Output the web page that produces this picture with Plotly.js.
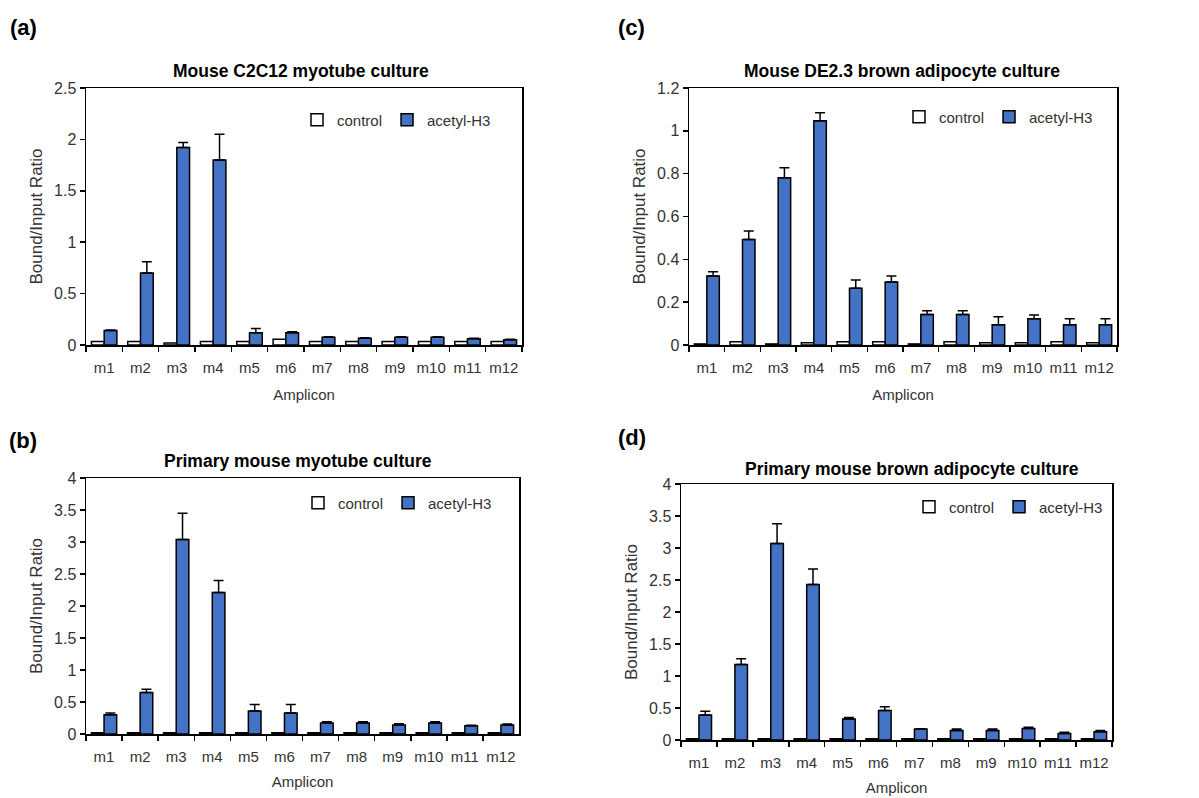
<!DOCTYPE html>
<html>
<head>
<meta charset="utf-8">
<script src="https://cdn.plot.ly/plotly-3.0.1.min.js"></script>
<style>html,body{margin:0;padding:0;background:#fff;} #chart{width:1199px;height:798px;}</style>
</head>
<body>
<div id="chart"></div>
<script>
// ---- data ----
const amplicons = ['m1','m2','m3','m4','m5','m6','m7','m8','m9','m10','m11','m12'];
const seriesNames = ['control', 'acetyl-H3'];

const panelTitles = [
  'Mouse C2C12 myotube culture',
  'Mouse DE2.3 brown adipocyte culture',
  'Primary mouse myotube culture',
  'Primary mouse brown adipocyte culture'
];
const panelLetters = ['(a)', '(c)', '(b)', '(d)'];

// (a) Mouse C2C12 myotube culture
const aControl = [0.035,0.035,0.02,0.035,0.035,0.055,0.035,0.035,0.035,0.035,0.035,0.035];
const aAcetyl  = [0.14,0.70,1.92,1.80,0.12,0.12,0.075,0.065,0.075,0.075,0.06,0.05];
const aAcetylErr = [0.005,0.11,0.05,0.25,0.04,0.01,0.005,0.005,0.005,0.005,0.005,0.005];

// (c) Mouse DE2.3 brown adipocyte culture
const cControl = [0.005,0.015,0.005,0.01,0.015,0.015,0.005,0.015,0.01,0.01,0.015,0.01];
const cAcetyl  = [0.322,0.493,0.781,1.047,0.265,0.294,0.142,0.142,0.095,0.123,0.095,0.095];
const cAcetylErr = [0.02,0.039,0.047,0.038,0.038,0.028,0.018,0.018,0.037,0.017,0.028,0.028];

// (b) Primary mouse myotube culture
const bControl = [0.02,0.02,0.02,0.02,0.02,0.02,0.02,0.02,0.02,0.02,0.02,0.02];
const bAcetyl  = [0.30,0.65,3.04,2.21,0.36,0.33,0.17,0.17,0.14,0.17,0.13,0.14];
const bAcetylErr = [0.03,0.05,0.41,0.19,0.10,0.13,0.02,0.02,0.02,0.02,0.005,0.015];

// (d) Primary mouse brown adipocyte culture
const dControl = [0.02,0.02,0.02,0.02,0.02,0.02,0.02,0.02,0.02,0.02,0.02,0.02];
const dAcetyl  = [0.39,1.18,3.07,2.43,0.33,0.46,0.17,0.15,0.15,0.18,0.10,0.13];
const dAcetylErr = [0.06,0.09,0.31,0.24,0.02,0.06,0.005,0.02,0.02,0.02,0.02,0.02];

const yRanges = [[0,2.5],[0,1.2],[0,4],[0,4]];
const yDticks = [0.5,0.2,0.5,0.5];

// ---- layout geometry (pixels in a 1199x798 page) ----
const W = 1199, H = 798;
const boxes = [
  {l:86,  r:522,  t:88,  b:345},  // (a)
  {l:689, r:1117, t:88,  b:345},  // (c)
  {l:86,  r:519,  t:478, b:734},  // (b)
  {l:681, r:1112, t:484, b:740}   // (d)
];
const legendPos = [
  {x:297, y:120}, {x:899, y:117}, {x:298, y:503}, {x:909, y:507}
];
const titlePos = [
  {x:301, y:71}, {x:902, y:71}, {x:298, y:461}, {x:912, y:469}
];
const letterPos = [
  {x:23, y:27}, {x:631, y:27}, {x:23, y:440}, {x:632, y:437}
];
const xTitleStandoff = [15, 15, 13, 13];

const controls = [aControl, cControl, bControl, dControl];
const acetyls = [aAcetyl, cAcetyl, bAcetyl, dAcetyl];
const acetylErrs = [aAcetylErr, cAcetylErr, bAcetylErr, dAcetylErr];

const BLUE = '#4472C4';
const TXT = '#333333';
const FONT = 'Liberation Sans, Arial, sans-serif';

const traces = [];
const layout = {
  width: W, height: H,
  margin: {l:0, r:0, t:0, b:0},
  paper_bgcolor: '#ffffff',
  plot_bgcolor: '#ffffff',
  barmode: 'group',
  bargap: 0.3,
  bargroupgap: 0,
  font: {family: FONT, color: TXT, size: 15},
  annotations: [],
  showlegend: true
};

for (let p = 0; p < 4; p++) {
  const suf = p === 0 ? '' : String(p + 1);
  const xa = 'x' + suf, ya = 'y' + suf;
  const legName = 'legend' + suf;
  traces.push({
    type: 'bar', name: seriesNames[0], x: amplicons, y: controls[p],
    xaxis: xa, yaxis: ya, legend: legName,
    marker: {color: '#ffffff', line: {color: '#000000', width: 1.5}},
    hoverinfo: 'x+y+name'
  });
  traces.push({
    type: 'bar', name: seriesNames[1], x: amplicons, y: acetyls[p],
    xaxis: xa, yaxis: ya, legend: legName,
    marker: {color: BLUE, line: {color: '#000000', width: 1.5}},
    error_y: {type: 'data', symmetric: false, array: acetylErrs[p], color: '#000000', thickness: 1.5, width: 5},
    hoverinfo: 'x+y+name'
  });

  const bx = boxes[p];
  layout['xaxis' + suf] = {
    domain: [bx.l / W, bx.r / W],
    anchor: ya,
    type: 'category',
    showline: true, linecolor: '#000000', linewidth: 1.5, mirror: true,
    ticks: 'outside', ticklen: 5, tickwidth: 1.5, tickcolor: '#000000',
    tickson: 'boundaries',
    tickangle: 0,
    ticklabelstandoff: 8,
    tickfont: {family: FONT, size: 15, color: TXT},
    showgrid: false, zeroline: false, fixedrange: true,
    title: {text: 'Amplicon', standoff: xTitleStandoff[p], font: {family: FONT, size: 15, color: TXT}}
  };
  layout['yaxis' + suf] = {
    domain: [1 - bx.b / H, 1 - bx.t / H],
    anchor: xa,
    range: yRanges[p],
    dtick: yDticks[p], tick0: 0,
    showline: true, linecolor: '#000000', linewidth: 1.5, mirror: true,
    ticks: 'outside', ticklen: 5, tickwidth: 1.5, tickcolor: '#000000',
    tickfont: {family: FONT, size: 16, color: TXT},
    showgrid: false, zeroline: false, fixedrange: true,
    title: {text: 'Bound/Input Ratio', font: {family: FONT, size: 17, color: TXT}}
  };
  layout[legName] = {
    orientation: 'h',
    x: legendPos[p].x / W, xanchor: 'left',
    y: 1 - legendPos[p].y / H, yanchor: 'middle',
    bgcolor: 'rgba(0,0,0,0)', borderwidth: 0,
    font: {family: FONT, size: 15, color: TXT},
    traceorder: 'normal'
  };
  layout.annotations.push({
    xref: 'paper', yref: 'paper',
    x: titlePos[p].x / W, y: 1 - titlePos[p].y / H,
    xanchor: 'center', yanchor: 'middle',
    text: '<b>' + panelTitles[p] + '</b>', showarrow: false,
    font: {family: FONT, size: 17.5, color: '#000000'}
  });
  layout.annotations.push({
    xref: 'paper', yref: 'paper',
    x: letterPos[p].x / W, y: 1 - letterPos[p].y / H,
    xanchor: 'center', yanchor: 'middle',
    text: '<b>' + panelLetters[p] + '</b>', showarrow: false,
    font: {family: FONT, size: 22, color: '#000000'}
  });
}

Plotly.newPlot('chart', traces, layout, {displayModeBar: false, staticPlot: true});
</script>
</body>
</html>
